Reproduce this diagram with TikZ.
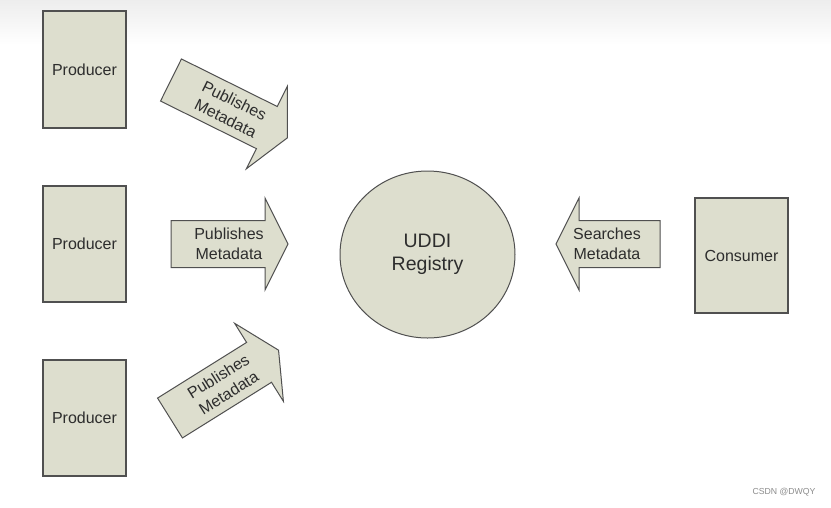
\documentclass[tikz,border=0pt]{standalone}
\usepackage{fontspec}
\setmainfont{Liberation Sans}
\usetikzlibrary{shapes.geometric}
\definecolor{boxfill}{RGB}{221,222,206}
\definecolor{boxline}{RGB}{80,80,80}
\definecolor{txt}{RGB}{45,45,45}
\tikzset{
  block/.style={draw=boxline, fill=boxfill, line width=1.2pt, inner sep=0pt, text=txt,
    font=\fontsize{16}{19.5}\selectfont, align=center},
  arrowbody/.style={draw=boxline, fill=boxfill, line width=1pt, line join=miter},
  arrowtext/.style={text=txt, font=\fontsize{16}{19.5}\selectfont, align=center, inner sep=0pt},
}
% name, x, y, angle, length, text offset, text rotation, text
\newcommand{\fatarrow}[8]{%
  \begin{scope}[shift={(#2,#3)}, rotate=#4]
    \draw[arrowbody] (0,-23.5) -- (#5-23,-23.5) -- (#5-23,-46) -- (#5,0) -- (#5-23,46)
      -- (#5-23,23.5) -- (0,23.5) -- cycle;
    \node[arrowtext, rotate=#7] (#1) at (#6,0) {#8};
  \end{scope}}
\begin{document}
\begin{tikzpicture}[x=1pt,y=-1pt]
  \useasboundingbox (0,0) rectangle (831,507);
  \fill[white] (0,0) rectangle (831,507);
  \shade[top color=black!7, bottom color=white] (0,0) rectangle (831,45);

  \node[block, minimum width=83, minimum height=117] (p1) at (84.5,69.5) {Producer};
  \node[block, minimum width=83, minimum height=116] (p2) at (84.5,244) {Producer};
  \node[block, minimum width=83, minimum height=116] (p3) at (84.5,418) {Producer};
  \node[block, minimum width=93, minimum height=115] (c) at (741.5,255.5) {Consumer};
  \node[block, ellipse, minimum width=175, minimum height=167, line width=1pt,
    font=\fontsize{19.5}{23}\selectfont] (r) at (427.5,254.5) {UDDI\\Registry};

  \fatarrow{a1}{171}{80}{-26.4}{130}{66}{-26.4}{Publishes\\Metadata}
  \fatarrow{a2}{171}{244}{0}{117}{58}{0}{Publishes\\Metadata}
  \fatarrow{a3}{170}{418}{32}{128}{63}{32}{Publishes\\Metadata}
  \fatarrow{a4}{660}{244}{180}{104}{53}{0}{Searches\\Metadata}

  \node[text=black!45, font=\fontsize{8.7}{10}\selectfont, inner sep=0pt] (wm) at (784,492) {CSDN @DWQY};
\end{tikzpicture}
\end{document}
